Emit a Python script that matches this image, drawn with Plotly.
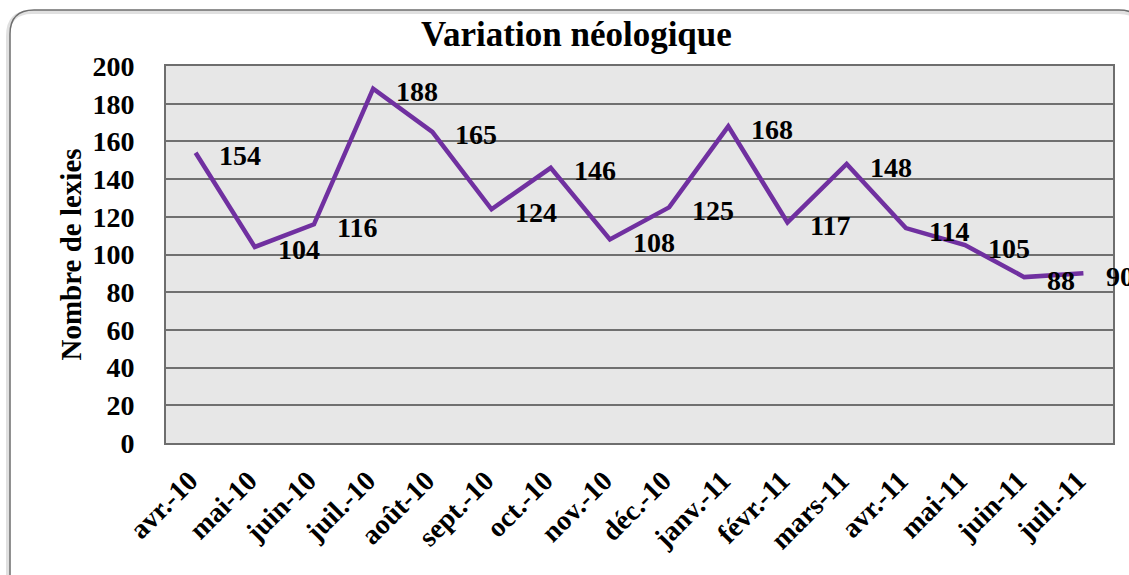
import plotly.graph_objects as go

months = ["avr.-10", "mai-10", "juin-10", "juil.-10", "août-10", "sept.-10", "oct.-10",
          "nov.-10", "déc.-10", "janv.-11", "févr.-11", "mars-11", "avr.-11", "mai-11",
          "juin-11", "juil.-11"]
lexies = [154, 104, 116, 188, 165, 124, 146, 108, 125, 168, 117, 148, 114, 105, 88, 90]
y_ticks = [0, 20, 40, 60, 80, 100, 120, 140, 160, 180, 200]

W, H = 1129, 575
L, R, T, B = 166, 1113, 66, 443
FONT = "Liberation Serif, Times New Roman, serif"


def px(x):
    return (x - L) / (R - L)


def py(y):
    return (B - y) / (B - T)


fig = go.Figure()
fig.add_trace(go.Scatter(
    x=list(range(len(months))), y=lexies, mode="lines",
    line=dict(color="#7030A0", width=4.5), hoverinfo="x+y", showlegend=False,
))

for i, v in enumerate(lexies):
    fig.add_annotation(x=i, y=v, text=f"<b>{v}</b>", showarrow=False, xanchor="left",
                       yanchor="middle", xshift=21, yshift=-3,
                       font=dict(family=FONT, size=28, color="black"))

fig.add_annotation(xref="paper", yref="paper", x=px(576), y=py(35), xanchor="center",
                   yanchor="middle", showarrow=False, text="<b>Variation néologique</b>",
                   font=dict(family=FONT, size=35, color="black"))


def rounded_path(x0, y0, x1, y1, r):
    return (f"M {px(x0)},{py(y0 + r)} "
            f"Q {px(x0)},{py(y0)} {px(x0 + r)},{py(y0)} "
            f"L {px(x1 - r)},{py(y0)} "
            f"Q {px(x1)},{py(y0)} {px(x1)},{py(y0 + r)} "
            f"L {px(x1)},{py(y1 - r)} "
            f"Q {px(x1)},{py(y1)} {px(x1 - r)},{py(y1)} "
            f"L {px(x0 + r)},{py(y1)} "
            f"Q {px(x0)},{py(y1)} {px(x0)},{py(y1 - r)} Z")


shapes = [
    dict(type="path", xref="paper", yref="paper", layer="below",
         path=rounded_path(8, 12, 1143, 602, 24),
         line=dict(color="rgba(0,0,0,0.12)", width=4)),
    dict(type="path", xref="paper", yref="paper", layer="below",
         path=rounded_path(10, 10, 1143, 600, 24),
         line=dict(color="#6e6e6e", width=1.5)),
]
fig.update_layout(shapes=shapes)

fig.update_layout(
    width=W, height=H,
    margin=dict(l=L, r=W - R, t=T, b=H - B, pad=0),
    paper_bgcolor="white",
    plot_bgcolor="#e7e7e7",
    font=dict(family=FONT, color="black"),
    xaxis=dict(
        tickmode="array", tickvals=list(range(len(months))),
        ticktext=[f"<b>{m}</b>" for m in months],
        range=[-0.5, len(months) - 0.5], tickangle=-45,
        tickfont=dict(family=FONT, size=28, color="black"),
        showgrid=False, showline=True, linecolor="#6e6e6e", linewidth=2, mirror=True,
        ticks="", ticklabelstandoff=8, ticklabelshift=-6, zeroline=False,
    ),
    yaxis=dict(
        range=[0, 200], tickmode="array", tickvals=y_ticks,
        ticktext=[f"<b>{t}</b>" for t in y_ticks],
        tickfont=dict(family=FONT, size=28, color="black"),
        showgrid=True, gridcolor="#707070", gridwidth=1.5,
        showline=True, linecolor="#6e6e6e", linewidth=2, mirror=True,
        ticks="", ticklabelstandoff=24, zeroline=False,
        title=dict(text="<b>Nombre de lexies</b>", font=dict(family=FONT, size=29, color="black"),
                   standoff=2),
    ),
)

fig.write_html("out.html", config={"displayModeBar": False},
               post_script="document.body.style.margin='0';document.body.style.overflow='hidden';")
